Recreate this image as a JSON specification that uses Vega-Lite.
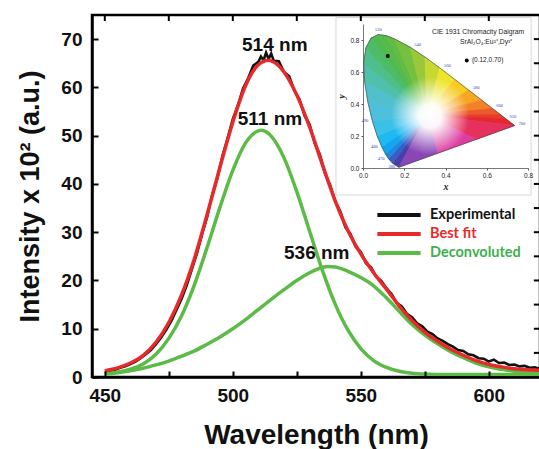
{
"$schema":"https://vega.github.io/schema/vega-lite/v6.json",
"width":448,"height":362,
"autosize":{"type":"none"},
"padding":{"left":92,"top":15,"right":0,"bottom":72},
"background":"white",
"config":{"view":{"stroke":"black","strokeWidth":2.5}},
"datasets":{
"exp":[{"wl":450,"v":1.0},{"wl":452,"v":1.2},{"wl":454,"v":1.5},{"wl":456,"v":1.9},{"wl":458,"v":2.2},{"wl":460,"v":2.7},{"wl":462,"v":3.2},{"wl":464,"v":3.9},{"wl":466,"v":4.7},{"wl":468,"v":5.6},{"wl":470,"v":6.8},{"wl":472,"v":8.2},{"wl":474,"v":9.8},{"wl":476,"v":11.6},{"wl":478,"v":13.9},{"wl":480,"v":16.2},{"wl":482,"v":19.0},{"wl":484,"v":22.3},{"wl":486,"v":25.6},{"wl":488,"v":29.6},{"wl":490,"v":33.2},{"wl":492,"v":37.8},{"wl":494,"v":41.2},{"wl":496,"v":45.9},{"wl":498,"v":49.5},{"wl":500,"v":53.4},{"wl":502,"v":56.3},{"wl":504,"v":59.8},{"wl":506,"v":61.9},{"wl":508,"v":64.5},{"wl":510,"v":65.3},{"wl":511,"v":66.4},{"wl":512,"v":65.6},{"wl":513,"v":67.2},{"wl":514,"v":65.9},{"wl":515,"v":67.0},{"wl":516,"v":65.5},{"wl":518,"v":65.4},{"wl":520,"v":63.2},{"wl":522,"v":62.3},{"wl":524,"v":59.4},{"wl":526,"v":57.6},{"wl":528,"v":54.2},{"wl":530,"v":52.3},{"wl":532,"v":48.4},{"wl":534,"v":46.1},{"wl":536,"v":42.2},{"wl":538,"v":39.8},{"wl":540,"v":36.4},{"wl":542,"v":34.3},{"wl":544,"v":31.0},{"wl":546,"v":29.6},{"wl":548,"v":27.0},{"wl":550,"v":25.9},{"wl":552,"v":23.6},{"wl":554,"v":22.7},{"wl":556,"v":20.8},{"wl":558,"v":19.9},{"wl":560,"v":18.4},{"wl":562,"v":17.2},{"wl":564,"v":15.4},{"wl":566,"v":14.6},{"wl":568,"v":13.1},{"wl":570,"v":12.4},{"wl":572,"v":11.1},{"wl":574,"v":10.5},{"wl":576,"v":9.4},{"wl":578,"v":8.9},{"wl":580,"v":8.0},{"wl":582,"v":7.5},{"wl":584,"v":6.8},{"wl":586,"v":6.3},{"wl":588,"v":5.6},{"wl":590,"v":5.4},{"wl":592,"v":4.7},{"wl":594,"v":4.5},{"wl":596,"v":3.9},{"wl":598,"v":3.8},{"wl":600,"v":3.2},{"wl":602,"v":3.6},{"wl":604,"v":2.9},{"wl":606,"v":3.0},{"wl":608,"v":2.5},{"wl":610,"v":2.6},{"wl":612,"v":2.2},{"wl":614,"v":2.3},{"wl":616,"v":1.9},{"wl":618,"v":2.0},{"wl":620,"v":1.7}],
"fit":[{"wl":450,"v":1.3},{"wl":455,"v":1.9},{"wl":460,"v":2.9},{"wl":465,"v":4.5},{"wl":470,"v":7.2},{"wl":475,"v":11.3},{"wl":480,"v":17.0},{"wl":485,"v":24.5},{"wl":490,"v":33.7},{"wl":495,"v":43.5},{"wl":500,"v":52.8},{"wl":505,"v":60.4},{"wl":510,"v":64.7},{"wl":514,"v":65.6},{"wl":515,"v":65.5},{"wl":520,"v":63.2},{"wl":525,"v":58.4},{"wl":530,"v":51.8},{"wl":535,"v":44.0},{"wl":540,"v":36.5},{"wl":545,"v":30.3},{"wl":550,"v":25.5},{"wl":555,"v":21.6},{"wl":560,"v":18.2},{"wl":565,"v":14.7},{"wl":570,"v":11.7},{"wl":575,"v":9.3},{"wl":580,"v":7.4},{"wl":585,"v":5.8},{"wl":590,"v":4.5},{"wl":595,"v":3.4},{"wl":600,"v":2.6},{"wl":605,"v":2.1},{"wl":610,"v":1.7},{"wl":615,"v":1.5},{"wl":620,"v":1.4}],
"g1":[{"wl":450,"v":0.7},{"wl":455,"v":1.0},{"wl":460,"v":1.6},{"wl":465,"v":2.7},{"wl":470,"v":4.7},{"wl":475,"v":8.0},{"wl":480,"v":12.7},{"wl":485,"v":19.1},{"wl":490,"v":26.9},{"wl":495,"v":35.2},{"wl":500,"v":42.8},{"wl":505,"v":48.5},{"wl":510,"v":51.0},{"wl":511,"v":51.1},{"wl":515,"v":49.9},{"wl":520,"v":45.4},{"wl":525,"v":38.4},{"wl":530,"v":30.2},{"wl":535,"v":22.1},{"wl":540,"v":15.1},{"wl":545,"v":9.7},{"wl":550,"v":5.9},{"wl":555,"v":3.4},{"wl":560,"v":2.0},{"wl":565,"v":1.2},{"wl":570,"v":0.8},{"wl":575,"v":0.6},{"wl":580,"v":0.5},{"wl":590,"v":0.5},{"wl":600,"v":0.5},{"wl":610,"v":0.5},{"wl":620,"v":0.5}],
"g2":[{"wl":450,"v":0.6},{"wl":455,"v":0.9},{"wl":460,"v":1.3},{"wl":465,"v":1.8},{"wl":470,"v":2.5},{"wl":475,"v":3.3},{"wl":480,"v":4.3},{"wl":485,"v":5.4},{"wl":490,"v":6.8},{"wl":495,"v":8.3},{"wl":500,"v":10.0},{"wl":505,"v":11.9},{"wl":510,"v":14.0},{"wl":515,"v":16.1},{"wl":520,"v":18.1},{"wl":525,"v":20.0},{"wl":530,"v":21.6},{"wl":535,"v":22.7},{"wl":537,"v":22.9},{"wl":540,"v":22.8},{"wl":545,"v":21.9},{"wl":550,"v":20.6},{"wl":555,"v":18.9},{"wl":560,"v":16.4},{"wl":565,"v":13.6},{"wl":570,"v":10.9},{"wl":575,"v":8.7},{"wl":580,"v":6.9},{"wl":585,"v":5.3},{"wl":590,"v":4.0},{"wl":595,"v":2.9},{"wl":600,"v":2.1},{"wl":605,"v":1.6},{"wl":610,"v":1.2},{"wl":615,"v":1.0},{"wl":620,"v":0.9}],
"ann":[{"t":"514 nm","wl":516.4,"v":68.8},{"t":"511 nm","wl":514.5,"v":53.4},{"t":"536 nm","wl":532.8,"v":25.7}],
"xt":[{"t":450},{"t":475},{"t":500},{"t":525},{"t":550},{"t":575},{"t":600}],
"yt":[{"t":5},{"t":10},{"t":15},{"t":20},{"t":25},{"t":30},{"t":35},{"t":40},{"t":45},{"t":50},{"t":55},{"t":60},{"t":65},{"t":70}],
"locus":[{"i":0,"cx":0.1741,"cy":0.005},{"i":1,"cx":0.144,"cy":0.0297},{"i":2,"cx":0.1241,"cy":0.0578},{"i":3,"cx":0.1096,"cy":0.0868},{"i":4,"cx":0.0913,"cy":0.1327},{"i":5,"cx":0.0687,"cy":0.2007},{"i":6,"cx":0.0454,"cy":0.295},{"i":7,"cx":0.0235,"cy":0.4127},{"i":8,"cx":0.0082,"cy":0.5384},{"i":9,"cx":0.0039,"cy":0.6548},{"i":10,"cx":0.0139,"cy":0.7502},{"i":11,"cx":0.0389,"cy":0.812},{"i":12,"cx":0.0743,"cy":0.8338},{"i":13,"cx":0.1142,"cy":0.8262},{"i":14,"cx":0.1547,"cy":0.8059},{"i":15,"cx":0.2296,"cy":0.7543},{"i":16,"cx":0.3016,"cy":0.6923},{"i":17,"cx":0.3731,"cy":0.6245},{"i":18,"cx":0.4441,"cy":0.5547},{"i":19,"cx":0.5125,"cy":0.4866},{"i":20,"cx":0.5752,"cy":0.4242},{"i":21,"cx":0.627,"cy":0.3725},{"i":22,"cx":0.6658,"cy":0.334},{"i":23,"cx":0.6915,"cy":0.3083},{"i":24,"cx":0.7347,"cy":0.2653}],
"tri":[
{"s":"s01","k":0,"cx":0.31,"cy":0.33},{"s":"s01","k":1,"cx":0.1741,"cy":0.005},{"s":"s01","k":2,"cx":0.144,"cy":0.0297},
{"s":"s02","k":0,"cx":0.31,"cy":0.33},{"s":"s02","k":1,"cx":0.144,"cy":0.0297},{"s":"s02","k":2,"cx":0.1241,"cy":0.0578},
{"s":"s03","k":0,"cx":0.31,"cy":0.33},{"s":"s03","k":1,"cx":0.1241,"cy":0.0578},{"s":"s03","k":2,"cx":0.1096,"cy":0.0868},
{"s":"s04","k":0,"cx":0.31,"cy":0.33},{"s":"s04","k":1,"cx":0.1096,"cy":0.0868},{"s":"s04","k":2,"cx":0.0913,"cy":0.1327},
{"s":"s05","k":0,"cx":0.31,"cy":0.33},{"s":"s05","k":1,"cx":0.0913,"cy":0.1327},{"s":"s05","k":2,"cx":0.0687,"cy":0.2007},
{"s":"s06","k":0,"cx":0.31,"cy":0.33},{"s":"s06","k":1,"cx":0.0687,"cy":0.2007},{"s":"s06","k":2,"cx":0.0454,"cy":0.295},
{"s":"s07","k":0,"cx":0.31,"cy":0.33},{"s":"s07","k":1,"cx":0.0454,"cy":0.295},{"s":"s07","k":2,"cx":0.0235,"cy":0.4127},
{"s":"s08","k":0,"cx":0.31,"cy":0.33},{"s":"s08","k":1,"cx":0.0235,"cy":0.4127},{"s":"s08","k":2,"cx":0.0082,"cy":0.5384},
{"s":"s09","k":0,"cx":0.31,"cy":0.33},{"s":"s09","k":1,"cx":0.0082,"cy":0.5384},{"s":"s09","k":2,"cx":0.0039,"cy":0.6548},
{"s":"s10","k":0,"cx":0.31,"cy":0.33},{"s":"s10","k":1,"cx":0.0039,"cy":0.6548},{"s":"s10","k":2,"cx":0.0139,"cy":0.7502},
{"s":"s11","k":0,"cx":0.31,"cy":0.33},{"s":"s11","k":1,"cx":0.0139,"cy":0.7502},{"s":"s11","k":2,"cx":0.0389,"cy":0.812},
{"s":"s12","k":0,"cx":0.31,"cy":0.33},{"s":"s12","k":1,"cx":0.0389,"cy":0.812},{"s":"s12","k":2,"cx":0.0743,"cy":0.8338},
{"s":"s13","k":0,"cx":0.31,"cy":0.33},{"s":"s13","k":1,"cx":0.0743,"cy":0.8338},{"s":"s13","k":2,"cx":0.1142,"cy":0.8262},
{"s":"s14","k":0,"cx":0.31,"cy":0.33},{"s":"s14","k":1,"cx":0.1142,"cy":0.8262},{"s":"s14","k":2,"cx":0.1547,"cy":0.8059},
{"s":"s15","k":0,"cx":0.31,"cy":0.33},{"s":"s15","k":1,"cx":0.1547,"cy":0.8059},{"s":"s15","k":2,"cx":0.2296,"cy":0.7543},
{"s":"s16","k":0,"cx":0.31,"cy":0.33},{"s":"s16","k":1,"cx":0.2296,"cy":0.7543},{"s":"s16","k":2,"cx":0.3016,"cy":0.6923},
{"s":"s17","k":0,"cx":0.31,"cy":0.33},{"s":"s17","k":1,"cx":0.3016,"cy":0.6923},{"s":"s17","k":2,"cx":0.3731,"cy":0.6245},
{"s":"s18","k":0,"cx":0.31,"cy":0.33},{"s":"s18","k":1,"cx":0.3731,"cy":0.6245},{"s":"s18","k":2,"cx":0.4441,"cy":0.5547},
{"s":"s19","k":0,"cx":0.31,"cy":0.33},{"s":"s19","k":1,"cx":0.4441,"cy":0.5547},{"s":"s19","k":2,"cx":0.5125,"cy":0.4866},
{"s":"s20","k":0,"cx":0.31,"cy":0.33},{"s":"s20","k":1,"cx":0.5125,"cy":0.4866},{"s":"s20","k":2,"cx":0.5752,"cy":0.4242},
{"s":"s21","k":0,"cx":0.31,"cy":0.33},{"s":"s21","k":1,"cx":0.5752,"cy":0.4242},{"s":"s21","k":2,"cx":0.627,"cy":0.3725},
{"s":"s22","k":0,"cx":0.31,"cy":0.33},{"s":"s22","k":1,"cx":0.627,"cy":0.3725},{"s":"s22","k":2,"cx":0.6658,"cy":0.334},
{"s":"s23","k":0,"cx":0.31,"cy":0.33},{"s":"s23","k":1,"cx":0.6658,"cy":0.334},{"s":"s23","k":2,"cx":0.6915,"cy":0.3083},
{"s":"s24","k":0,"cx":0.31,"cy":0.33},{"s":"s24","k":1,"cx":0.6915,"cy":0.3083},{"s":"s24","k":2,"cx":0.7347,"cy":0.2653},
{"s":"s25","k":0,"cx":0.31,"cy":0.33},{"s":"s25","k":1,"cx":0.7347,"cy":0.2653},{"s":"s25","k":2,"cx":0.5478,"cy":0.1785},
{"s":"s26","k":0,"cx":0.31,"cy":0.33},{"s":"s26","k":1,"cx":0.5478,"cy":0.1785},{"s":"s26","k":2,"cx":0.361,"cy":0.0918},
{"s":"s27","k":0,"cx":0.31,"cy":0.33},{"s":"s27","k":1,"cx":0.361,"cy":0.0918},{"s":"s27","k":2,"cx":0.1741,"cy":0.005}],
"wlR":[{"n":"540","cx":0.2296,"cy":0.7543},{"n":"560","cx":0.3731,"cy":0.6245},{"n":"580","cx":0.5125,"cy":0.4866},{"n":"600","cx":0.627,"cy":0.3725},{"n":"620","cx":0.6915,"cy":0.3083},{"n":"700","cx":0.7347,"cy":0.2653}],
"wlL":[{"n":"490","cx":0.0454,"cy":0.295},{"n":"480","cx":0.0913,"cy":0.1327},{"n":"470","cx":0.1241,"cy":0.0578},{"n":"380","cx":0.1741,"cy":0.005}],
"wlT":[{"n":"520","cx":0.0743,"cy":0.8338}],
"ipt":[{"cx":0.12,"cy":0.70},{"cx":0.503,"cy":0.672}],
"itx":[{"t":"CIE 1931 Chromacity Daigram","cx":0.558,"cy":0.852},{"t":"SrAl₂O₄:Eu²⁺,Dy³⁺","cx":0.597,"cy":0.79}],
"itx2":[{"t":"(0.12,0.70)","cx":0.528,"cy":0.672}]
},
"layer":[
{
"layer":[
{"data":{"values":[{}]},"mark":{"type":"rect","fill":"white","stroke":"#d8d8d8","strokeWidth":1},
 "encoding":{
  "x":{"datum":-0.131,"type":"quantitative","scale":{"domain":[0,0.8],"range":[271,436],"nice":false,"zero":false},
   "axis":{"orient":"bottom","offset":-209,"values":[0,0.2,0.4,0.6,0.8],"format":".1f","grid":false,"domainColor":"#555","domainWidth":0.8,"tickColor":"#555","tickSize":2,"labelFont":"Liberation Sans","labelFontSize":6.5,"labelColor":"#222","labelPadding":2,"labelFlush":false,"title":"x","titleFont":"Liberation Serif","titleFontStyle":"italic","titleFontWeight":"bold","titleFontSize":10,"titleColor":"#222","titlePadding":3,"zindex":1}},
  "x2":{"datum":0.815},
  "y":{"datum":-0.169,"type":"quantitative","scale":{"domain":[0,0.9],"range":[153,9],"nice":false,"zero":false},
   "axis":{"orient":"left","offset":-271,"values":[0,0.2,0.4,0.6,0.8],"format":".1f","grid":false,"domainColor":"#555","domainWidth":0.8,"tickColor":"#555","tickSize":2,"labelFont":"Liberation Sans","labelFontSize":6.5,"labelColor":"#222","labelPadding":2,"labelFlush":false,"title":"y","titleFont":"Liberation Serif","titleFontStyle":"italic","titleFontWeight":"bold","titleFontSize":10,"titleColor":"#222","titlePadding":3,"zindex":1}},
  "y2":{"datum":0.94}}},
{"data":{"name":"tri"},"mark":{"type":"line","interpolate":"linear-closed","strokeWidth":0.8},
 "encoding":{"x":{"field":"cx","type":"quantitative"},"y":{"field":"cy","type":"quantitative"},"order":{"field":"k","type":"quantitative"},
  "fill":{"field":"s","type":"nominal","legend":null,"scale":{"domain":["s01","s02","s03","s04","s05","s06","s07","s08","s09","s10","s11","s12","s13","s14","s15","s16","s17","s18","s19","s20","s21","s22","s23","s24","s25","s26","s27"],"range":["#4a3fa8","#3560c8","#2288e0","#12a6ee","#1cbaf0","#3cc0e8","#4cc0dc","#52c0cc","#50c0ac","#4ebe8a","#4cbc6a","#50ba52","#58ba48","#62bc44","#76c040","#9ac83a","#c6d832","#eee42a","#f6cc22","#f6a622","#f28228","#ec5a2c","#e83c2e","#e4282e","#e6305e","#dc3ea0","#8a46b6"]}},
  "stroke":{"field":"s","type":"nominal","legend":null,"scale":{"domain":["s01","s02","s03","s04","s05","s06","s07","s08","s09","s10","s11","s12","s13","s14","s15","s16","s17","s18","s19","s20","s21","s22","s23","s24","s25","s26","s27"],"range":["#4a3fa8","#3560c8","#2288e0","#12a6ee","#1cbaf0","#3cc0e8","#4cc0dc","#52c0cc","#50c0ac","#4ebe8a","#4cbc6a","#50ba52","#58ba48","#62bc44","#76c040","#9ac83a","#c6d832","#eee42a","#f6cc22","#f6a622","#f28228","#ec5a2c","#e83c2e","#e4282e","#e6305e","#dc3ea0","#8a46b6"]}}}},
{"data":{"name":"locus"},"mark":{"type":"line","interpolate":"linear-closed","strokeWidth":0,"strokeOpacity":0,
  "fill":{"gradient":"radial","x1":0.44,"y1":0.6,"r1":0,"x2":0.44,"y2":0.6,"r2":0.26,"stops":[{"offset":0,"color":"#ffffff"},{"offset":0.3,"color":"rgba(255,255,255,0.95)"},{"offset":1,"color":"rgba(255,255,255,0)"}]}},
 "encoding":{"x":{"field":"cx","type":"quantitative"},"y":{"field":"cy","type":"quantitative"},"order":{"field":"i","type":"quantitative"}}},
{"data":{"name":"locus"},"mark":{"type":"line","interpolate":"linear-closed","stroke":"#444","strokeWidth":0.6},
 "encoding":{"x":{"field":"cx","type":"quantitative"},"y":{"field":"cy","type":"quantitative"},"order":{"field":"i","type":"quantitative"}}},
{"data":{"name":"ipt"},"mark":{"type":"point","filled":true,"color":"black","size":16,"opacity":1},
 "encoding":{"x":{"field":"cx","type":"quantitative"},"y":{"field":"cy","type":"quantitative"}}},
{"data":{"name":"itx"},"mark":{"type":"text","font":"Liberation Sans","fontSize":6.8,"color":"#222","align":"center","baseline":"middle"},
 "encoding":{"x":{"field":"cx","type":"quantitative"},"y":{"field":"cy","type":"quantitative"},"text":{"field":"t"}}},
{"data":{"name":"itx2"},"mark":{"type":"text","font":"Liberation Sans","fontSize":6.5,"color":"#222","align":"left","baseline":"middle"},
 "encoding":{"x":{"field":"cx","type":"quantitative"},"y":{"field":"cy","type":"quantitative"},"text":{"field":"t"}}},
{"data":{"name":"wlR"},"mark":{"type":"text","font":"Liberation Serif","fontSize":4.5,"color":"#3344cc","align":"left","baseline":"middle","dx":4,"dy":-2},
 "encoding":{"x":{"field":"cx","type":"quantitative"},"y":{"field":"cy","type":"quantitative"},"text":{"field":"n"}}},
{"data":{"name":"wlL"},"mark":{"type":"text","font":"Liberation Serif","fontSize":4.5,"color":"#3344cc","align":"right","baseline":"middle","dx":-4},
 "encoding":{"x":{"field":"cx","type":"quantitative"},"y":{"field":"cy","type":"quantitative"},"text":{"field":"n"}}},
{"data":{"name":"wlT"},"mark":{"type":"text","font":"Liberation Serif","fontSize":4.5,"color":"#3344cc","align":"center","baseline":"bottom","dy":-3},
 "encoding":{"x":{"field":"cx","type":"quantitative"},"y":{"field":"cy","type":"quantitative"},"text":{"field":"n"}}}
]
},
{
"layer":[
{"data":{"name":"exp"},"mark":{"type":"line","strokeWidth":2.6},
 "encoding":{
  "x":{"field":"wl","type":"quantitative","scale":{"domain":[445,620],"nice":false,"zero":false},
   "axis":{"orient":"bottom","values":[450,475,500,525,550,575,600],"labelExpr":"datum.value % 50 === 0 ? datum.label : ''","tickSize":-6,"tickWidth":2,"tickColor":"black","domainColor":"black","domainWidth":2.5,"labelFont":"Liberation Sans","labelFontWeight":"bold","labelFontSize":19,"labelColor":"#111","labelPadding":15,"labelFlush":false,"labelOverlap":false,"title":"Wavelength (nm)","titleFont":"Liberation Sans","titleFontSize":28,"titleFontWeight":"bold","titleColor":"#111","titlePadding":16,"grid":false,"zindex":1}},
  "y":{"field":"v","type":"quantitative","scale":{"domain":[0,75],"nice":false,"zero":true},
   "axis":{"orient":"left","values":[0,5,10,15,20,25,30,35,40,45,50,55,60,65,70],"labelExpr":"datum.value % 10 === 0 ? datum.label : ''","tickSize":-6,"tickWidth":2,"tickColor":"black","domainColor":"black","domainWidth":2.5,"labelFont":"Liberation Sans","labelFontWeight":"bold","labelFontSize":19,"labelColor":"#111","labelPadding":16,"labelOverlap":false,"title":"Intensity x 10² (a.u.)","titleFont":"Liberation Sans","titleFontSize":27,"titleFontWeight":"bold","titleColor":"#111","titlePadding":16,"grid":false,"zindex":1}},
  "stroke":{"datum":"Experimental","type":"nominal","scale":{"domain":["Experimental","Best fit","Deconvoluted"],"range":["#111111","#e8292a","#5cba47"]},
   "legend":{"orient":"none","legendX":296,"legendY":189,"title":null,"symbolType":"M-2.5,0H2.5","symbolSize":300,"symbolStrokeWidth":4,"labelFont":"Lato","labelFontWeight":"bold","labelFontSize":14.5,"labelOffset":20,"rowPadding":0,"padding":0,
    "labelColor":{"expr":"datum.value === 'Best fit' ? '#e8292a' : datum.value === 'Deconvoluted' ? '#3eb14f' : '#111111'"}}}}},
{"data":{"name":"g1"},"mark":{"type":"line","strokeWidth":3.5,"interpolate":"monotone"},
 "encoding":{"x":{"field":"wl","type":"quantitative"},"y":{"field":"v","type":"quantitative"},"stroke":{"datum":"Deconvoluted","type":"nominal"}}},
{"data":{"name":"g2"},"mark":{"type":"line","strokeWidth":3.5,"interpolate":"monotone"},
 "encoding":{"x":{"field":"wl","type":"quantitative"},"y":{"field":"v","type":"quantitative"},"stroke":{"datum":"Deconvoluted","type":"nominal"}}},
{"data":{"name":"fit"},"mark":{"type":"line","strokeWidth":3.5,"interpolate":"monotone"},
 "encoding":{"x":{"field":"wl","type":"quantitative"},"y":{"field":"v","type":"quantitative"},"stroke":{"datum":"Best fit","type":"nominal"}}},
{"data":{"name":"ann"},"mark":{"type":"text","font":"Liberation Sans","fontWeight":"bold","fontSize":19,"color":"#111","align":"center","baseline":"middle"},
 "encoding":{"x":{"field":"wl","type":"quantitative"},"y":{"field":"v","type":"quantitative"},"text":{"field":"t"}}},
{"data":{"name":"xt"},"mark":{"type":"rule","color":"black","strokeWidth":2},
 "encoding":{"x":{"field":"t","type":"quantitative"},"y":{"datum":75,"type":"quantitative"},"y2":{"datum":73.75}}},
{"data":{"name":"yt"},"mark":{"type":"rule","color":"black","strokeWidth":2},
 "encoding":{"y":{"field":"t","type":"quantitative"},"x":{"datum":620,"type":"quantitative"},"x2":{"datum":617.6}}}
]
}
],
"resolve":{"scale":{"x":"independent","y":"independent","stroke":"independent","fill":"independent"},"axis":{"x":"independent","y":"independent"},"legend":{"stroke":"independent"}}
}
